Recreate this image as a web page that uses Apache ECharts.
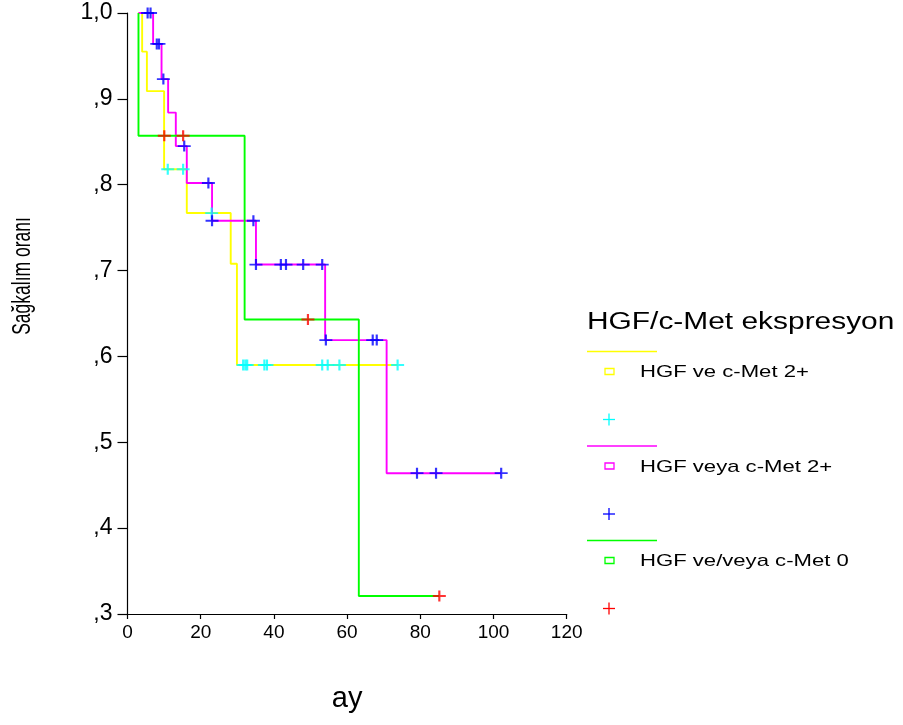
<!DOCTYPE html>
<html>
<head>
<meta charset="utf-8">
<script src="https://cdn.jsdelivr.net/npm/echarts@6/dist/echarts.min.js"></script>
<style>
  html, body { margin: 0; padding: 0; background: #ffffff; }
  #chart { width: 903px; height: 725px; }
</style>
</head>
<body>
<div id="chart"></div>
<script>
// Kaplan-Meier steps per group: [month, survival from that month on]
const groupNames = ['HGF ve c-Met 2+', 'HGF veya c-Met 2+', 'HGF ve/veya c-Met 0'];
const stepsBoth   = [[3, 1.0], [4, 0.955], [5.3, 0.909], [10, 0.818], [16.2, 0.767], [28.2, 0.708], [29.9, 0.590], [73.8, 0.590]];
const stepsEither = [[3, 1.0], [7, 0.964], [9.3, 0.923], [11.1, 0.884], [13.2, 0.845], [16.2, 0.802], [23.1, 0.758], [35.1, 0.707], [54.0, 0.619], [70.8, 0.464], [102.1, 0.464]];
const stepsNone   = [[3, 1.0], [3, 0.857], [32, 0.643], [63.2, 0.321], [85.2, 0.321]];

// Censored observations (months)
const censorBoth   = [11.0, 15.2, 23.0, 31.6, 32.2, 32.7, 37.4, 38.1, 53.2, 54.7, 57.9, 73.8];
const censorEither = [5.5, 6.3, 8.0, 8.6, 9.8, 15.5, 22.1, 23.1, 34.4, 35.1, 41.9, 43.3, 48.0, 53.2, 54.2, 67.0, 68.1, 79.1, 84.3, 102.1];
const censorNone   = [10.05, 15.2, 49.3, 85.2];

// Axis ticks
const xTickValues = [0, 20, 40, 60, 80, 100, 120];
const yTickValues = [0.3, 0.4, 0.5, 0.6, 0.7, 0.8, 0.9, 1.0];
const yTickLabels = [',3', ',4', ',5', ',6', ',7', ',8', ',9', '1,0'];

const lineColors   = ['#ffff00', '#ff00ff', '#00ff00'];
const censorColors = ['#00ffff', '#0000ff', '#ff0000'];
const FONT = '"Liberation Sans", Arial, sans-serif';

function survivalAt(steps, t) {
  let s = steps[0][1];
  for (const [time, val] of steps) {
    if (time <= t + 1e-9) s = val;
  }
  return s;
}

const allSteps = [stepsBoth, stepsEither, stepsNone];
const allCensors = [censorBoth, censorEither, censorNone];

const crossPath = 'path://M0,6L12,6M6,0L6,12';

const series = [];
allSteps.forEach((steps, i) => {
  series.push({
    name: groupNames[i],
    type: 'line',
    step: 'end',
    data: steps,
    showSymbol: false,
    symbol: 'none',
    lineStyle: { color: lineColors[i], width: 1.9 },
    z: 2 + i,
    animation: false
  });
});
allCensors.forEach((times, i) => {
  series.push({
    name: groupNames[i] + ' censored',
    type: 'scatter',
    data: times.map(t => [t, survivalAt(allSteps[i], t)]),
    symbol: crossPath,
    symbolSize: [13, 11],
    itemStyle: { color: 'rgba(0,0,0,0)', borderColor: censorColors[i], borderWidth: 2 },
    z: 10,
    animation: false
  });
});

// Legend block, built from graphic elements
const legendX = 587;
const legendTop = 351.5;
const legendStep = 94.5;
const legendGraphics = [{
  type: 'text',
  left: legendX, top: 311,
  style: { text: 'HGF/c-Met ekspresyon', font: '23px ' + FONT, fill: '#000' },
  scaleX: 1.3
}];
groupNames.forEach((name, i) => {
  const y = legendTop + i * legendStep;
  legendGraphics.push({
    type: 'line',
    shape: { x1: legendX, y1: y, x2: legendX + 70, y2: y },
    style: { stroke: lineColors[i], lineWidth: 1.5 }
  });
  legendGraphics.push({
    type: 'rect',
    shape: { x: legendX + 18, y: y + 17, width: 9, height: 6 },
    style: { fill: 'none', stroke: lineColors[i], lineWidth: 1.3 }
  });
  legendGraphics.push({
    type: 'text',
    x: legendX + 53, y: y + 21,
    style: { text: name, font: '17px ' + FONT, fill: '#000', textVerticalAlign: 'middle', verticalAlign: 'middle' },
    scaleX: 1.3
  });
  const cy = y + 68;
  legendGraphics.push({
    type: 'line',
    shape: { x1: legendX + 16, y1: cy, x2: legendX + 28, y2: cy },
    style: { stroke: censorColors[i], lineWidth: 1.3 }
  });
  legendGraphics.push({
    type: 'line',
    shape: { x1: legendX + 22, y1: cy - 6, x2: legendX + 22, y2: cy + 6 },
    style: { stroke: censorColors[i], lineWidth: 1.3 }
  });
});

const option = {
  backgroundColor: '#ffffff',
  animation: false,
  grid: { left: 127.5, right: 336.3, top: 13, bottom: 111, containLabel: false },
  xAxis: {
    type: 'value',
    min: xTickValues[0], max: xTickValues[xTickValues.length - 1], interval: 20,
    name: 'ay',
    nameLocation: 'middle',
    nameGap: 70,
    nameTextStyle: { fontFamily: FONT, fontSize: 29, color: '#000' },
    axisLine: { show: true, onZero: false, lineStyle: { color: '#000', width: 1.2 } },
    axisTick: { show: true, inside: false, length: 5, lineStyle: { color: '#000', width: 1.2 } },
    axisLabel: { fontFamily: FONT, fontSize: 19, color: '#000', margin: 9 },
    splitLine: { show: false }
  },
  yAxis: {
    type: 'value',
    min: yTickValues[0], max: yTickValues[yTickValues.length - 1], interval: 0.1,
    axisLine: { show: true, onZero: false, lineStyle: { color: '#000', width: 1.2 } },
    axisTick: { show: true, inside: false, length: 10, lineStyle: { color: '#000', width: 1.2 } },
    axisLabel: {
      fontFamily: FONT, fontSize: 23, color: '#000', margin: 15,
      formatter: v => {
        const idx = yTickValues.findIndex(t => Math.abs(t - v) < 1e-6);
        return idx >= 0 ? yTickLabels[idx] : '';
      }
    },
    splitLine: { show: false }
  },
  graphic: [
    {
      type: 'text',
      x: 23, y: 276,
      rotation: Math.PI / 2,
      scaleX: 0.7,
      style: { text: 'Sağkalım oranı', font: '25px ' + FONT, fill: '#000', align: 'center', verticalAlign: 'middle', textAlign: 'center', textVerticalAlign: 'middle' }
    }
  ].concat(legendGraphics),
  series: series
};

const chart = echarts.init(document.getElementById('chart'), null, { renderer: 'canvas' });
chart.setOption(option);
</script>
</body>
</html>
